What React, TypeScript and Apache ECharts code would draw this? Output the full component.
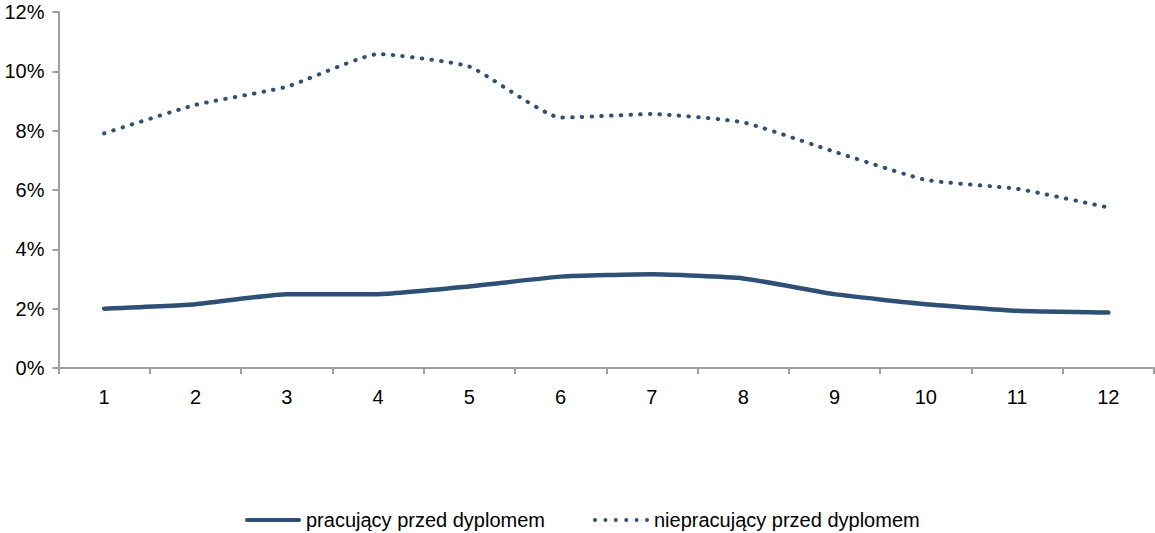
import React, { useEffect, useRef } from "react";
import * as echarts from "echarts";

const categories = ["1", "2", "3", "4", "5", "6", "7", "8", "9", "10", "11", "12"];
const seriesNames = ["pracujący przed dyplomem", "niepracujący przed dyplomem"];
const pracujacy = [2.0, 2.15, 2.49, 2.49, 2.75, 3.08, 3.16, 3.02, 2.49, 2.15, 1.93, 1.87];
const niepracujacy = [7.91, 8.87, 9.48, 10.58, 10.16, 8.44, 8.56, 8.28, 7.29, 6.34, 6.04, 5.41];
const yTicks = { min: 0, max: 12, interval: 2 };

const FONT = "'Liberation Sans Narrow', 'Arial Narrow', 'Liberation Sans', Arial, sans-serif";
const COLOR = "#2E5077";
const AXIS = "#A0A0A0";

const SOLID_ICON = "path://M2,0 H54 A2,2 0 0 1 54,4 H2 A2,2 0 0 1 2,0 Z";
const DOT_ICON =
  "path://" +
  [0, 1, 2, 3, 4, 5]
    .map((i) => {
      const cx = 2 + i * 10.4;
      return `M${cx - 2},2 A2,2 0 1 0 ${cx + 2},2 A2,2 0 1 0 ${cx - 2},2 Z`;
    })
    .join(" ");

export default function App() {
  const ref = useRef<HTMLDivElement>(null);
  useEffect(() => {
    if (!ref.current) return;
    const chart = echarts.init(ref.current, undefined, { renderer: "svg" });
    chart.setOption({
      animation: false,
      backgroundColor: "#ffffff",
      textStyle: { fontFamily: FONT },
      grid: { left: 58.5, right: 1, top: 12, bottom: 165, containLabel: false },
      legend: {
        top: 505,
        left: 240,
        itemWidth: 56,
        itemHeight: 5,
        itemGap: 48,
        textStyle: { fontFamily: FONT, fontSize: 20, color: "#000" },
        data: [
          { name: seriesNames[0], icon: SOLID_ICON, itemStyle: { color: COLOR } },
          { name: seriesNames[1], icon: DOT_ICON, itemStyle: { color: COLOR } },
        ],
      },
      xAxis: {
        type: "category",
        data: categories,
        boundaryGap: true,
        axisLine: { lineStyle: { color: AXIS, width: 2 } },
        axisTick: { show: true, length: 6, lineStyle: { color: AXIS, width: 2 } },
        axisLabel: { fontFamily: FONT, fontSize: 20, color: "#000", margin: 19 },
        splitLine: { show: false },
      },
      yAxis: {
        type: "value",
        min: yTicks.min,
        max: yTicks.max,
        interval: yTicks.interval,
        axisLine: { show: true, lineStyle: { color: AXIS, width: 2 } },
        axisTick: { show: true, length: 6, lineStyle: { color: AXIS, width: 2 } },
        axisLabel: {
          fontFamily: FONT,
          fontSize: 20,
          color: "#000",
          margin: 14,
          padding: [9, 0, 0, 0],
          formatter: "{value}%",
        },
        splitLine: { show: false },
      },
      series: [
        {
          name: seriesNames[0],
          type: "line",
          data: pracujacy,
          smooth: 0.15,
          showSymbol: false,
          symbol: "none",
          itemStyle: { color: COLOR },
          lineStyle: { color: COLOR, width: 4.5, cap: "round" },
        },
        {
          name: seriesNames[1],
          type: "line",
          data: niepracujacy,
          smooth: 0.15,
          showSymbol: false,
          symbol: "none",
          itemStyle: { color: COLOR },
          lineStyle: { color: COLOR, width: 4, type: [0.5, 9.2], cap: "round" },
        },
      ],
    });
    return () => chart.dispose();
  }, []);
  return (
    <div
      ref={ref}
      style={{ position: "fixed", left: 0, top: 0, width: 1155, height: 533 }}
    />
  );
}
